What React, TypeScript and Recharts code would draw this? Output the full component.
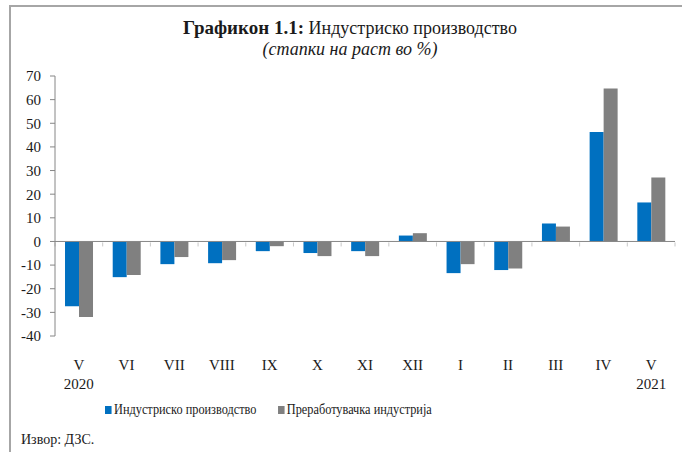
import React from "react";
import { BarChart, Bar, XAxis, YAxis, ReferenceLine } from "recharts";

// meseci (maj 2020 - maj 2021)
const months = ["V", "VI", "VII", "VIII", "IX", "X", "XI", "XII", "I", "II", "III", "IV", "V"];
const years = ["2020", "", "", "", "", "", "", "", "", "", "", "", "2021"];
const industrial = [-27.4, -15.1, -9.6, -9.2, -4.1, -4.9, -4.1, 2.5, -13.4, -12.1, 7.6, 46.3, 16.5];
const manufacturing = [-32.0, -14.2, -6.6, -7.9, -2.0, -6.2, -6.2, 3.5, -9.6, -11.4, 6.3, 64.7, 27.1];
const yTicks = [-40, -30, -20, -10, 0, 10, 20, 30, 40, 50, 60, 70];

const seriesNames = ["Индустриско производство", "Преработувачка индустрија"];
const BLUE = "#0070C0";
const GRAY = "#808080";
const FONT = "'Liberation Serif', 'Times New Roman', serif";

const chartData = months.map((m, i) => ({
    key: `${m}-${i}`,
    industrial: industrial[i],
    manufacturing: manufacturing[i],
}));

// x labels: mesec + godina ispod
const MonthTick = ({ x, y, index }: any) => (
    <g>
        <text x={x} y={y} dy={26} textAnchor="middle" fontSize={15} fill="#1a1a1a" fontFamily={FONT}>
            {months[index]}
        </text>
        {years[index] && (
            <text x={x} y={y} dy={45} textAnchor="middle" fontSize={15} fill="#1a1a1a" fontFamily={FONT}>
                {years[index]}
            </text>
        )}
    </g>
);

// zero line with small ticks between categories (Excel style)
const ZeroAxis = (props: any) => {
    const { x1, y1, x2, y2 } = props;
    const n = months.length;
    const step = (x2 - x1) / n;
    const ticks = [];
    for (let i = 0; i <= n; i++) {
        ticks.push(
            <line key={i} x1={x1 + i * step} x2={x1 + i * step} y1={y1 + 1} y2={y1 + 5} stroke="#c8c8c8" strokeWidth={1} />
        );
    }
    return (
        <g>
            {ticks}
            <line x1={x1} y1={y1} x2={x2} y2={y2} stroke="#868686" strokeWidth={1} />
        </g>
    );
};

export default function App() {
    return (
        <div
            style={{
                position: "absolute",
                left: 0,
                top: 0,
                width: 682,
                height: 452,
                background: "#fff",
                fontFamily: FONT,
                color: "#1a1a1a",
            }}
        >
            {/* okvir */}
            <div style={{ position: "absolute", left: 9, top: 5, right: 0, bottom: 0, borderTop: "2px solid #a6a6a6", borderLeft: "2px solid #a6a6a6" }} />
            <div style={{ position: "absolute", top: 17, left: 0, width: 700, textAlign: "center", fontSize: 18 }}>
                <span style={{ fontWeight: "bold", fontSize: 19 }}>Графикон 1.1:</span> Индустриско производство
            </div>
            <div style={{ position: "absolute", top: 39, left: 0, width: 700, textAlign: "center", fontSize: 18, fontStyle: "italic" }}>
                (стапки на раст во %)
            </div>

            <div style={{ position: "absolute", left: 0, top: 0 }}>
                <BarChart
                    width={682}
                    height={452}
                    data={chartData}
                    margin={{ top: 76, right: 7, left: 5, bottom: 56 }}
                    barCategoryGap="21%"
                    barGap={0}
                >
                    <XAxis dataKey="key" axisLine={false} tickLine={false} height={60} tick={<MonthTick />} interval={0} />
                    <YAxis
                        domain={[-40, 70]}
                        ticks={yTicks}
                        width={50}
                        axisLine={{ stroke: "#868686" }}
                        tickLine={{ stroke: "#868686" }}
                        tickSize={5}
                        tickMargin={9}
                        tick={{ fill: "#1a1a1a", fontSize: 15, fontFamily: FONT }}
                        interval={0}
                    />
                    <Bar dataKey="industrial" fill={BLUE} isAnimationActive={false} />
                    <Bar dataKey="manufacturing" fill={GRAY} isAnimationActive={false} />
                    <ReferenceLine y={0} shape={<ZeroAxis />} />
                </BarChart>
            </div>

            {/* legenda */}
            <div
                style={{
                    position: "absolute",
                    top: 401,
                    left: 105,
                    display: "flex",
                    fontSize: 15,
                    whiteSpace: "nowrap",
                    transform: "scaleX(0.82)",
                    transformOrigin: "left center",
                }}
            >
                <div style={{ display: "flex", alignItems: "center" }}>
                    <span style={{ width: 8, height: 8, background: BLUE, display: "inline-block", marginRight: 3 }} />
                    {seriesNames[0]}
                </div>
                <div style={{ display: "flex", alignItems: "center", marginLeft: 26 }}>
                    <span style={{ width: 8, height: 8, background: GRAY, display: "inline-block", marginRight: 3 }} />
                    {seriesNames[1]}
                </div>
            </div>
            <div style={{ position: "absolute", top: 432, left: 21, fontSize: 14 }}>Извор: ДЗС.</div>
        </div>
    );
}
